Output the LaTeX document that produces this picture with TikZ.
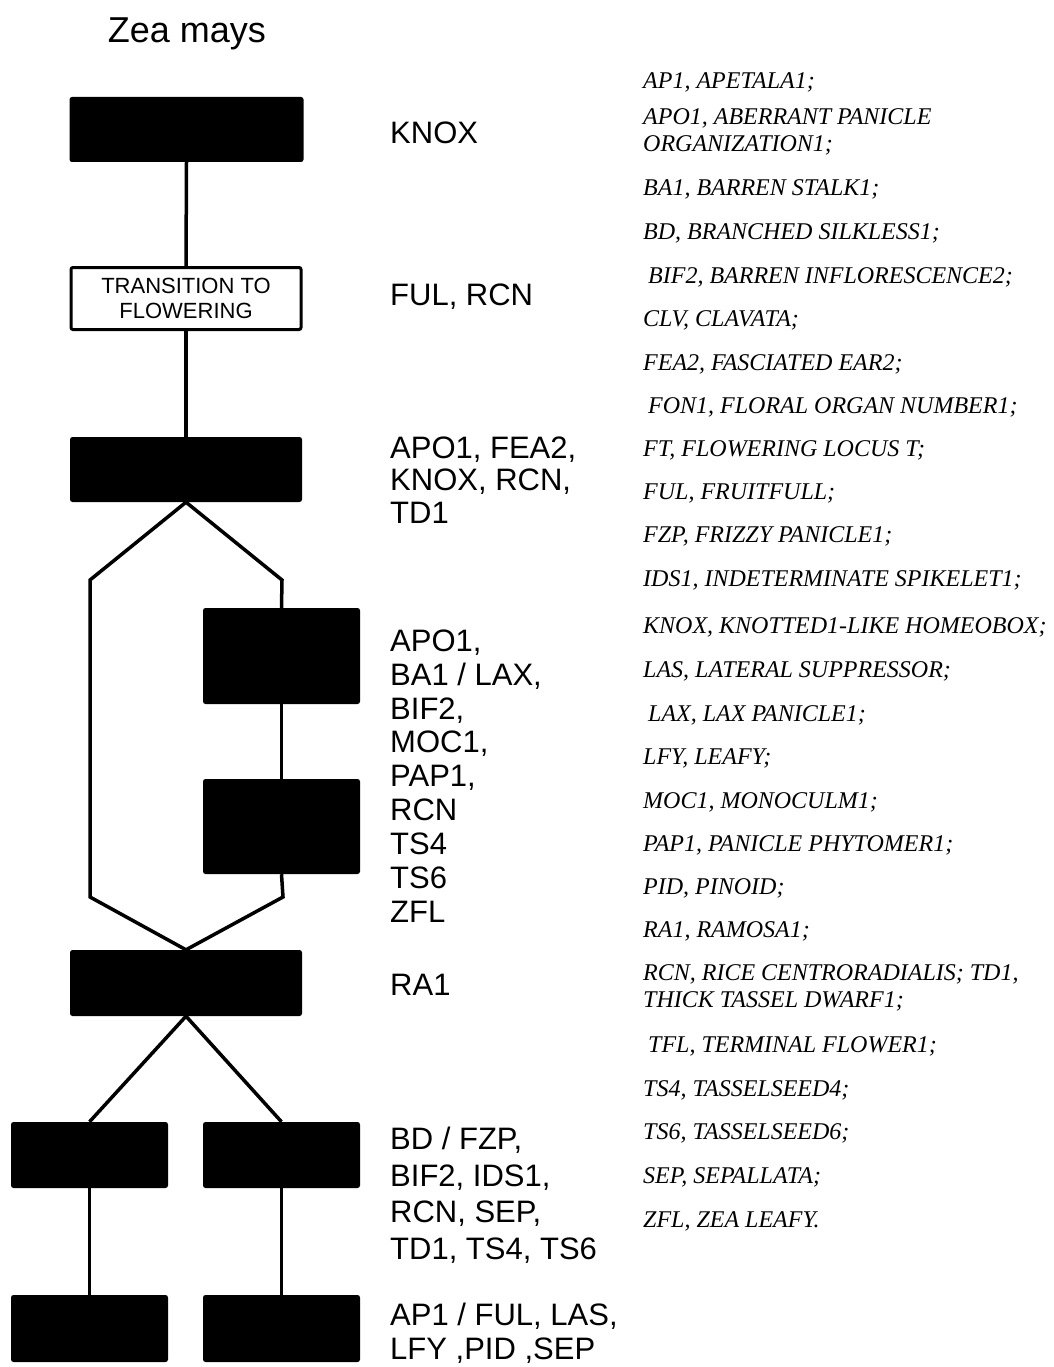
\documentclass[tikz,border=0pt]{standalone}
\usepackage{fontspec}
\setmainfont{Liberation Serif}
\setsansfont{Liberation Sans}
\begin{document}
\begin{tikzpicture}[x=1pt,y=-1pt,
  blk/.style={fill=black,draw=none,rounded corners=2.5pt,inner sep=0pt},
  trbox/.style={draw=black,line width=3pt,fill=white,rounded corners=2pt,inner sep=0pt,align=center,font=\sffamily\fontsize{22}{25}\selectfont},
  conn/.style={line width=3.5pt},
  mid/.style={anchor=west,align=left,inner sep=0pt},
  midfont/.style={font=\sffamily\fontsize{31}{#1}\selectfont},
  gl/.style={anchor=west,align=left,inner sep=0pt,font=\itshape\fontsize{24}{27}\selectfont}]
\fill[white] (0,0) rectangle (1054,1367);
\useasboundingbox (0,0) rectangle (1054,1367);

% title
\node[font=\sffamily\fontsize{36}{40}\selectfont] (title) at (187,34) {Zea mays};

% boxes
\node[blk,minimum width=234pt,minimum height=65pt] (b1) at (186.5,129.5) {};
\node[trbox,minimum width=230pt,minimum height=62pt] (tr) at (186,298.5) {TRANSITION TO\\FLOWERING};
\node[blk,minimum width=232pt,minimum height=65pt] (b3) at (186,469.5) {};
\node[blk,minimum width=157pt,minimum height=96pt] (b4) at (281.5,656) {};
\node[blk,minimum width=157pt,minimum height=95pt] (b5) at (281.5,826.5) {};
\node[blk,minimum width=232pt,minimum height=66pt] (b6) at (186,983) {};
\node[blk,minimum width=157pt,minimum height=66pt] (b7l) at (89.5,1155) {};
\node[blk,minimum width=157pt,minimum height=66pt] (b7r) at (281.5,1155) {};
\node[blk,minimum width=157pt,minimum height=67pt] (b8l) at (89.5,1328.5) {};
\node[blk,minimum width=157pt,minimum height=67pt] (b8r) at (281.5,1328.5) {};

% bend points
\coordinate (l1) at (90,580);
\coordinate (l2) at (90,897);
\coordinate (r1) at (282,580);
\coordinate (r2) at (283,897);

% connectors
\draw[conn] (b1.south) -- (tr.north);
\draw[conn] (tr.south) -- (b3.north);
\draw[conn] (b3.south) -- (l1) -- (l2) -- (b6.north);
\draw[conn] (b3.south) -- (r1) -- (b4.north);
\draw[conn] (b4.south) -- (b5.north);
\draw[conn] (b5.south) -- (r2) -- (b6.north);
\draw[conn] (b6.south) -- (b7l.north);
\draw[conn] (b6.south) -- (b7r.north);
\draw[conn] (b7l.south) -- (b8l.north);
\draw[conn] (b7r.south) -- (b8r.north);

% middle column
\node[mid,midfont=34] (m1) at (390,133) {KNOX};
\node[mid,midfont=34] (m2) at (390,297) {FUL, RCN};
\node[mid,midfont=32.5] (m3) at (390,480) {APO1, FEA2,\\KNOX, RCN,\\TD1};
\node[mid,midfont=33.9] (m4) at (390,776) {APO1,\\BA1 / LAX,\\BIF2,\\MOC1,\\PAP1,\\RCN\\TS4\\TS6\\ZFL};
\node[mid,midfont=34] (m5) at (390,985) {RA1};
\node[mid,midfont=36.5] (m6) at (390,1195) {BD / FZP,\\BIF2, IDS1,\\RCN, SEP,\\TD1, TS4, TS6};
\node[mid,midfont=34] (m7) at (390,1333) {AP1 / FUL, LAS,\\LFY ,PID ,SEP};

% glossary
\node[gl] (g1) at (643,82) {AP1, APETALA1;};
\node[gl] (g2) at (643,131.5) {APO1, ABERRANT PANICLE\\ORGANIZATION1;};
\node[gl] (g3) at (643,189) {BA1, BARREN STALK1;};
\node[gl] (g4) at (643,233) {BD, BRANCHED SILKLESS1;};
\node[gl] (g5) at (648,277) {BIF2, BARREN INFLORESCENCE2;};
\node[gl] (g6) at (643,320) {CLV, CLAVATA;};
\node[gl] (g7) at (643,364) {FEA2, FASCIATED EAR2;};
\node[gl] (g8) at (648,407) {FON1, FLORAL ORGAN NUMBER1;};
\node[gl] (g9) at (643,450) {FT, FLOWERING LOCUS T;};
\node[gl] (g10) at (643,493) {FUL, FRUITFULL;};
\node[gl] (g11) at (643,536) {FZP, FRIZZY PANICLE1;};
\node[gl] (g12) at (643,580) {IDS1, INDETERMINATE SPIKELET1;};
\node[gl] (g13) at (643,627) {KNOX, KNOTTED1-LIKE HOMEOBOX;};
\node[gl] (g14) at (643,671) {LAS, LATERAL SUPPRESSOR;};
\node[gl] (g15) at (648,715) {LAX, LAX PANICLE1;};
\node[gl] (g16) at (643,758) {LFY, LEAFY;};
\node[gl] (g17) at (643,802) {MOC1, MONOCULM1;};
\node[gl] (g18) at (643,845) {PAP1, PANICLE PHYTOMER1;};
\node[gl] (g19) at (643,888) {PID, PINOID;};
\node[gl] (g20) at (643,931) {RA1, RAMOSA1;};
\node[gl] (g21) at (643,987.5) {RCN, RICE CENTRORADIALIS; TD1,\\THICK TASSEL DWARF1;};
\node[gl] (g22) at (648,1046) {TFL, TERMINAL FLOWER1;};
\node[gl] (g23) at (643,1090) {TS4, TASSELSEED4;};
\node[gl] (g24) at (643,1133) {TS6, TASSELSEED6;};
\node[gl] (g25) at (643,1177) {SEP, SEPALLATA;};
\node[gl] (g26) at (643,1221) {ZFL, ZEA LEAFY.};
\end{tikzpicture}
\end{document}
